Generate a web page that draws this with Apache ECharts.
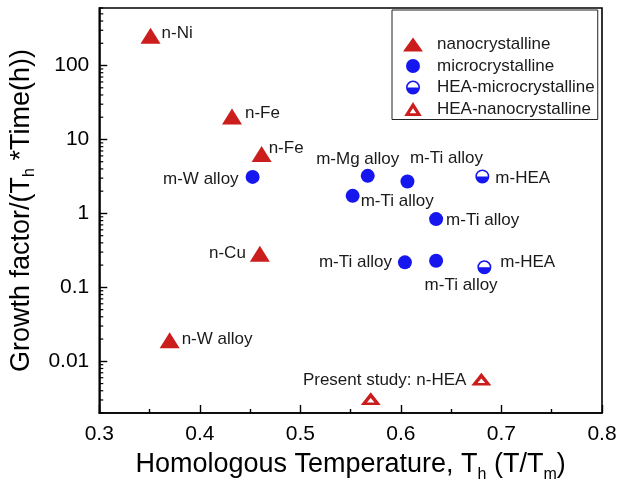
<!DOCTYPE html>
<html>
<head>
<meta charset="utf-8">
<script src="https://cdn.jsdelivr.net/npm/echarts@6/dist/echarts.min.js"></script>
<style>html,body{margin:0;padding:0;background:#fff}#c{width:622px;height:488px}</style>
</head>
<body>
<div id="c"></div>
<script>
// ---- data (x = homologous temperature, y = growth factor) ----
const nanoNames = ['n-Ni', 'n-Fe', 'n-Fe', 'n-Cu', 'n-W alloy'];
const nanoX = [0.351, 0.432, 0.4615, 0.4597, 0.370];
const nanoY = [253, 20.4, 6.37, 0.285, 0.0193];

const microNames = ['m-W alloy', 'm-Mg alloy', 'm-Ti alloy', 'm-Ti alloy', 'm-Ti alloy', 'm-Ti alloy', 'm-Ti alloy'];
const microX = [0.4525, 0.567, 0.6065, 0.552, 0.635, 0.604, 0.635];
const microY = [3.12, 3.22, 2.70, 1.73, 0.838, 0.218, 0.229];

const heaMicroNames = ['m-HEA', 'm-HEA'];
const heaMicroX = [0.681, 0.683];
const heaMicroY = [3.16, 0.187];

const heaNanoNames = ['', 'Present study: n-HEA'];
const heaNanoX = [0.570, 0.680];
const heaNanoY = [0.00312, 0.00575];

const seriesNames = ['nanocrystalline', 'microcrystalline', 'HEA-microcrystalline', 'HEA-nanocrystalline'];
const xTicks = [0.3, 0.4, 0.5, 0.6, 0.7, 0.8];
const yDecades = [0.01, 0.1, 1, 10, 100];

// ---- label placement (style, not data) ----
const nanoLabelPos = [
  {position: 'right', distance: 1, offset: [0, -2]},
  {position: 'right', distance: 3, offset: [0, -3]},
  {position: 'right', distance: 0, offset: [-3, -6]},
  {position: 'left', distance: 4, offset: [0, 0]},
  {position: 'right', distance: 2, offset: [0, -1]}
];
const microLabelPos = [
  {position: 'left', distance: 7, offset: [0, 2]},
  {position: 'top', distance: 1, offset: [-10, 0]},
  {position: 'top', distance: 8, offset: [39, 0]},
  {position: 'right', distance: 1, offset: [0, 5]},
  {position: 'right', distance: 3, offset: [0, 1]},
  {position: 'left', distance: 6, offset: [0, 0]},
  {position: 'bottom', distance: 9, offset: [25, 0]}
];
const heaMicroLabelPos = [
  {position: 'right', distance: 6, offset: [0, 2]},
  {position: 'right', distance: 9, offset: [0, -5]}
];
const heaNanoLabelPos = [
  {position: 'left', distance: 5, offset: [0, 1]},
  {position: 'left', distance: 5, offset: [0, 1]}
];

const RED = '#cc1d1d';
const BLUE = '#1616ee';
const FONT = 'Liberation Sans, Arial, sans-serif';

function build(names, xs, ys, pos) {
  return xs.map((x, i) => ({
    value: [x, ys[i]],
    name: names[i],
    label: {show: !!names[i], formatter: '{b}', position: pos[i].position, distance: pos[i].distance, offset: pos[i].offset}
  }));
}

const halfCircle = 'path://M0,10 A10,10 0 1,1 20,10 A10,10 0 1,1 0,10 Z M2.2,10 A7.8,7.8 0 1,0 17.8,10 A7.8,7.8 0 1,0 2.2,10 Z M2.2,10 L17.8,10 A7.8,7.8 0 0,1 2.2,10 Z';
const hollowTri = 'path://M10,0 L20,16 L0,16 Z M10,7.2 L6.2,12.8 L13.8,12.8 Z';

// minor tick positions for the log axis (2..9 x 10^k)
const minorVals = [];
for (let e = -3; e <= 2; e++) for (let k = 2; k <= 9; k++) {
  const v = k * Math.pow(10, e);
  if (v >= 0.002 && v <= 600) minorVals.push([0.3, v]);
}

const labelStyle = {fontFamily: FONT, fontSize: 17, color: '#1a1a1a'};

const chart = echarts.init(document.getElementById('c'), null, {renderer: 'canvas'});
chart.setOption({
  animation: false,
  backgroundColor: '#fff',
  grid: {left: 98, top: 8, width: 504, height: 406, show: true, borderColor: '#000', borderWidth: 1.6, backgroundColor: 'transparent'},
  legend: {
    data: seriesNames,
    orient: 'vertical',
    left: 392, top: 10,
    padding: [26, 3, 2, 11],
    itemWidth: 20, itemHeight: 14, itemGap: 4.5,
    borderColor: '#222', borderWidth: 1,
    textStyle: {fontFamily: FONT, fontSize: 17, color: '#1a1a1a', padding: [0, 0, 0, 9]}
  },
  xAxis: {
    type: 'value', min: 0.3, max: 0.8, interval: 0.1,
    axisLine: {lineStyle: {color: '#000', width: 1.6}},
    axisTick: {inside: true, length: 8, lineStyle: {color: '#000', width: 1.4}},
    minorTick: {show: true, splitNumber: 2, length: 4, lineStyle: {color: '#000', width: 1.4}},
    splitLine: {show: false},
    axisLabel: {margin: 11, fontFamily: FONT, fontSize: 21, color: '#000', formatter: v => xTicks.some(t => Math.abs(t - v) < 1e-6) ? v.toFixed(1) : ''},
    name: 'Homologous Temperature, T{s|h} (T/T{s|m})',
    nameLocation: 'middle', nameGap: 34,
    nameTextStyle: {fontFamily: FONT, fontSize: 27, color: '#000', rich: {s: {fontFamily: FONT, fontSize: 16, color: '#000', padding: [20, 0, 0, 0]}}}
  },
  yAxis: {
    type: 'log', logBase: 10, min: 0.002, max: 600,
    axisLine: {lineStyle: {color: '#000', width: 1.6}},
    axisTick: {inside: true, length: 8, lineStyle: {color: '#000', width: 1.4}},
    splitLine: {show: false},
    axisLabel: {margin: 10, fontFamily: FONT, fontSize: 21, color: '#000', showMinLabel: false, showMaxLabel: false,
      formatter: v => { const r = parseFloat(Number(v).toPrecision(3)); return yDecades.some(d => Math.abs(d - r) / d < 1e-6) ? String(r) : ''; }},
    name: 'Growth factor/(T{s|h} *Time(h))',
    nameLocation: 'middle', nameGap: 49, nameRotate: 90,
    nameTextStyle: {fontFamily: FONT, fontSize: 27, color: '#000', rich: {s: {fontFamily: FONT, fontSize: 16, color: '#000', padding: [16, 0, 0, 0]}}}
  },
  series: [
    {
      name: seriesNames[0], type: 'scatter', symbol: 'triangle', symbolSize: [20, 16],
      itemStyle: {color: RED, opacity: 1}, label: labelStyle,
      data: build(nanoNames, nanoX, nanoY, nanoLabelPos), z: 3
    },
    {
      name: seriesNames[1], type: 'scatter', symbol: 'circle', symbolSize: 14,
      itemStyle: {color: BLUE, opacity: 1}, label: labelStyle,
      data: build(microNames, microX, microY, microLabelPos), z: 3
    },
    {
      name: seriesNames[2], type: 'scatter', symbol: halfCircle, symbolSize: 14, symbolKeepAspect: true,
      itemStyle: {color: BLUE, opacity: 1}, label: labelStyle,
      data: build(heaMicroNames, heaMicroX, heaMicroY, heaMicroLabelPos), z: 3
    },
    {
      name: seriesNames[3], type: 'scatter', symbol: hollowTri, symbolSize: [20, 16], symbolKeepAspect: true,
      itemStyle: {color: RED, opacity: 1}, label: labelStyle,
      data: build(heaNanoNames, heaNanoX, heaNanoY, heaNanoLabelPos), z: 3
    },
    {
      name: 'minorY', type: 'custom', silent: true, clip: false, z: 2,
      data: minorVals,
      renderItem: (params, api) => {
        const p = api.coord([api.value(0), api.value(1)]);
        return {type: 'line', shape: {x1: p[0], y1: p[1], x2: p[0] + 4, y2: p[1]}, style: {stroke: '#000', lineWidth: 1.2}};
      }
    }
  ]
});
</script>
</body>
</html>
